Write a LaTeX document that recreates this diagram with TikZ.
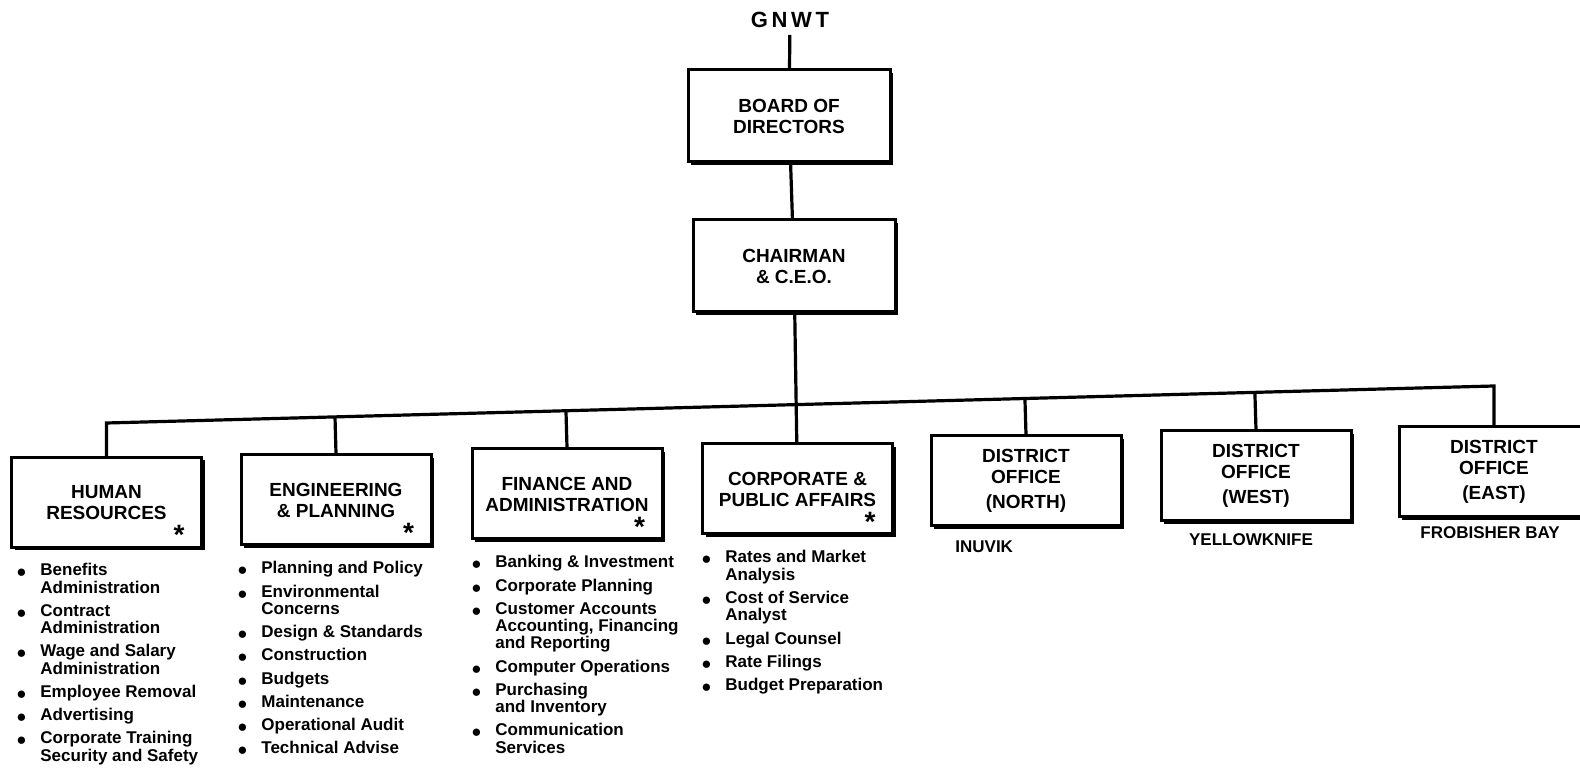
\documentclass[tikz,border=0pt]{standalone}
\usepackage{fontspec}
\setmainfont{Liberation Sans}
\usepackage{tikz}
\usetikzlibrary{positioning,calc,shadows}
% bullet cell for the duty lists
\newcommand{\blt}{\makebox[12pt][l]{\raisebox{-1pt}[0pt][0pt]{\fontsize{8.5}{8}\selectfont ●}}}

\begin{document}
\begin{tikzpicture}[
  x=0.5pt, y=-0.5pt,
  every node/.style={font=\bfseries},
  unit/.style={draw,line width=1.5pt,fill=white,align=center,inner sep=2pt,
    minimum width=95pt,minimum height=45pt,
    font=\bfseries\fontsize{9.5}{10.5}\selectfont,
    drop shadow={shadow xshift=1.5pt,shadow yshift=-1.5pt,fill=black,opacity=1}},
  headbox/.style={unit,minimum width=101pt,minimum height=46pt},
  duties/.style={anchor=base west,inner sep=0pt,align=left,
    font=\bfseries\fontsize{8.5}{8.3}\selectfont},
  town/.style={inner sep=1pt,font=\bfseries\fontsize{8.5}{10}\selectfont},
  starmark/.style={anchor=north,inner sep=0pt,font=\bfseries\fontsize{14}{14}\selectfont},
  link/.style={line width=1.6pt}
]
\useasboundingbox (0,0) rectangle (1580,769);

% top of the chart
\node[font=\bfseries\fontsize{11}{13}\selectfont] (gnwt) at (790,20) {G\,N\,W\,T};
\node[headbox] (board) at (789,116) {BOARD OF\\DIRECTORS};
\node[headbox] (ceo) at (794,266) {CHAIRMAN\\\& C.E.O.};

% departments
\node[unit] (hr) at (106.5,502.5) {HUMAN\\RESOURCES};
\node[unit] (ep) at (336,500) {ENGINEERING\\\& PLANNING};
\node[unit] (fin) at (567,494) {FINANCE AND\\ADMINISTRATION};
\node[unit] (corp) at (797.5,489) {CORPORATE \&\\PUBLIC AFFAIRS};
\node[unit] (north) at (1026,481) {DISTRICT\\OFFICE\\[2pt](NORTH)};
\node[unit] (west) at (1256,476) {DISTRICT\\OFFICE\\[2pt](WEST)};
\node[unit] (east) at (1494,472) {DISTRICT\\OFFICE\\[2pt](EAST)};

\foreach \b in {hr,ep,fin,corp}
  \node[starmark] (\b-star) at ($(\b.south east)+(-24,-24)$) {*};

% district towns
\node[town,anchor=west] (inuvik) at (953,547) {INUVIK};
\node[town] (yknife) at (1251,540) {YELLOWKNIFE};
\node[town] (frobisher) at (1490,533) {FROBISHER BAY};

% connectors
\draw[link] (gnwt) -- (board);
\draw[link] (board) -- (ceo);
\draw[link] (ceo) -- (corp);
\coordinate (jhr) at (hr.north |- 0,423);
\coordinate (jeast) at (east.north |- 0,386);
\draw[link] (hr.north) -- (jhr) -- (jeast) -- (east.north);
\foreach \b in {ep,fin,north,west} {
  \coordinate (j\b) at ($(jhr)!(\b.north)!(jeast)$);
  \draw[link] (\b.north) -- (j\b);
}

% duty lists
\node[duties] (hrlist) at (16,576) {\begin{tabular}[t]{@{}l@{}l@{}}
\blt & Benefits\\ & Administration\\[3pt]
\blt & Contract\\ & Administration\\[3pt]
\blt & Wage and Salary\\ & Administration\\[3pt]
\blt & Employee Removal\\[3pt]
\blt & Advertising\\[3pt]
\blt & Corporate Training\\ & Security and Safety
\end{tabular}};
\node[duties] (eplist) at (237,574) {\begin{tabular}[t]{@{}l@{}l@{}}
\blt & Planning and Policy\\[3pt]
\blt & Environmental\\ & Concerns\\[3pt]
\blt & Design \& Standards\\[3pt]
\blt & Construction\\[3pt]
\blt & Budgets\\[3pt]
\blt & Maintenance\\[3pt]
\blt & Operational Audit\\[3pt]
\blt & Technical Advise
\end{tabular}};
\node[duties] (finlist) at (471,568) {\begin{tabular}[t]{@{}l@{}l@{}}
\blt & Banking \& Investment\\[3pt]
\blt & Corporate Planning\\[3pt]
\blt & Customer Accounts\\ & Accounting, Financing\\ & and Reporting\\[3pt]
\blt & Computer Operations\\[3pt]
\blt & Purchasing\\ & and Inventory\\[3pt]
\blt & Communication\\ & Services
\end{tabular}};
\node[duties] (corplist) at (701,563) {\begin{tabular}[t]{@{}l@{}l@{}}
\blt & Rates and Market\\ & Analysis\\[3pt]
\blt & Cost of Service\\ & Analyst\\[3pt]
\blt & Legal Counsel\\[3pt]
\blt & Rate Filings\\[3pt]
\blt & Budget Preparation
\end{tabular}};
\end{tikzpicture}
\end{document}
